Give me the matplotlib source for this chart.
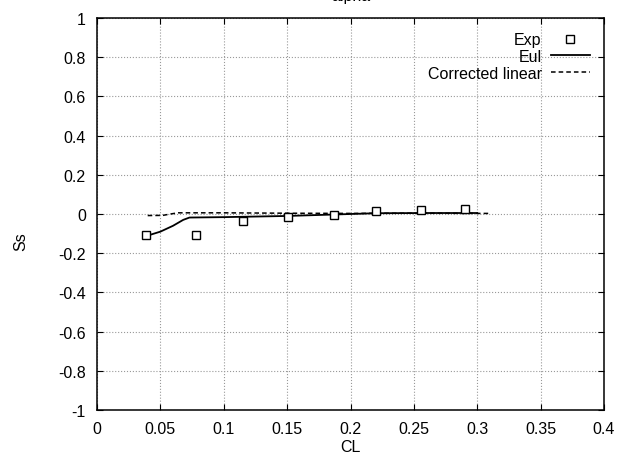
import matplotlib
matplotlib.use("Agg")
import matplotlib.pyplot as plt

plt.rcParams['font.family'] = ['Liberation Sans', 'DejaVu Sans']
plt.rcParams['axes.unicode_minus'] = False

# Experimental data (squares)
exp_cl = [0.039, 0.078, 0.115, 0.151, 0.187, 0.220, 0.256, 0.290]
exp_ss = [-0.109, -0.106, -0.036, -0.017, -0.006, 0.014, 0.021, 0.023]

# Euler solution (solid line)
eul_cl = [0.039, 0.050, 0.060, 0.068, 0.073, 0.100, 0.150, 0.190, 0.220, 0.260, 0.300]
eul_ss = [-0.112, -0.090, -0.060, -0.030, -0.018, -0.016, -0.010, -0.002, 0.004, 0.005, 0.005]

# Corrected linear (dashed line)
lin_cl = [0.040, 0.052, 0.058, 0.064, 0.100, 0.150, 0.200, 0.250, 0.300, 0.310]
lin_ss = [-0.008, -0.007, 0.000, 0.006, 0.006, 0.004, 0.003, 0.004, 0.003, 0.003]

xticks = [0, 0.05, 0.1, 0.15, 0.2, 0.25, 0.3, 0.35, 0.4]
xticklabels = ['0', '0.05', '0.1', '0.15', '0.2', '0.25', '0.3', '0.35', '0.4']
yticks = [-1, -0.8, -0.6, -0.4, -0.2, 0, 0.2, 0.4, 0.6, 0.8, 1]
yticklabels = ['-1', '-0.8', '-0.6', '-0.4', '-0.2', '0', '0.2', '0.4', '0.6', '0.8', '1']

FS = 11.5

fig = plt.figure(figsize=(6.21, 4.60), dpi=100)
ax = fig.add_axes([97/621, 1 - 411/460, 507/621, 392/460])

ax.plot(exp_cl, exp_ss, linestyle='none', marker='s', markersize=5.5,
        markerfacecolor='white', markeredgecolor='black', markeredgewidth=1.0,
        label='Exp', zorder=3)
ax.plot(eul_cl, eul_ss, color='black', linewidth=1.3, label='Eul')
ax.plot(lin_cl, lin_ss, color='black', linewidth=1.1, linestyle=(0, (3, 2)),
        label='Corrected linear')

ax.set_xlim(0, 0.4)
ax.set_ylim(-1, 1)
ax.set_xticks(xticks)
ax.set_xticklabels(xticklabels)
ax.set_yticks(yticks)
ax.set_yticklabels(yticklabels)
ax.tick_params(direction='in', top=True, right=True, length=4, width=0.8,
               labelsize=FS)
ax.tick_params(axis='x', pad=8)
ax.tick_params(axis='y', pad=8)
ax.grid(True, linestyle=':', color='#999999', linewidth=0.8)
for s in ax.spines.values():
    s.set_linewidth(1.1)

ax.set_xlabel('CL', fontsize=FS)
ax.set_ylabel('Ss', fontsize=FS)
ax.xaxis.set_label_coords(0.5, -0.074)
ax.yaxis.set_label_coords(-0.136, 0.431)

fig.text(0.5645, 1 - 1.5/460, 'alpha', ha='center', va='baseline', fontsize=FS)

leg = ax.legend(loc='upper right', frameon=False, markerfirst=False,
                fontsize=FS, handlelength=2.4, handletextpad=0.6,
                labelspacing=0.1, borderaxespad=0.5)

fig.savefig('out.png', dpi=100)
